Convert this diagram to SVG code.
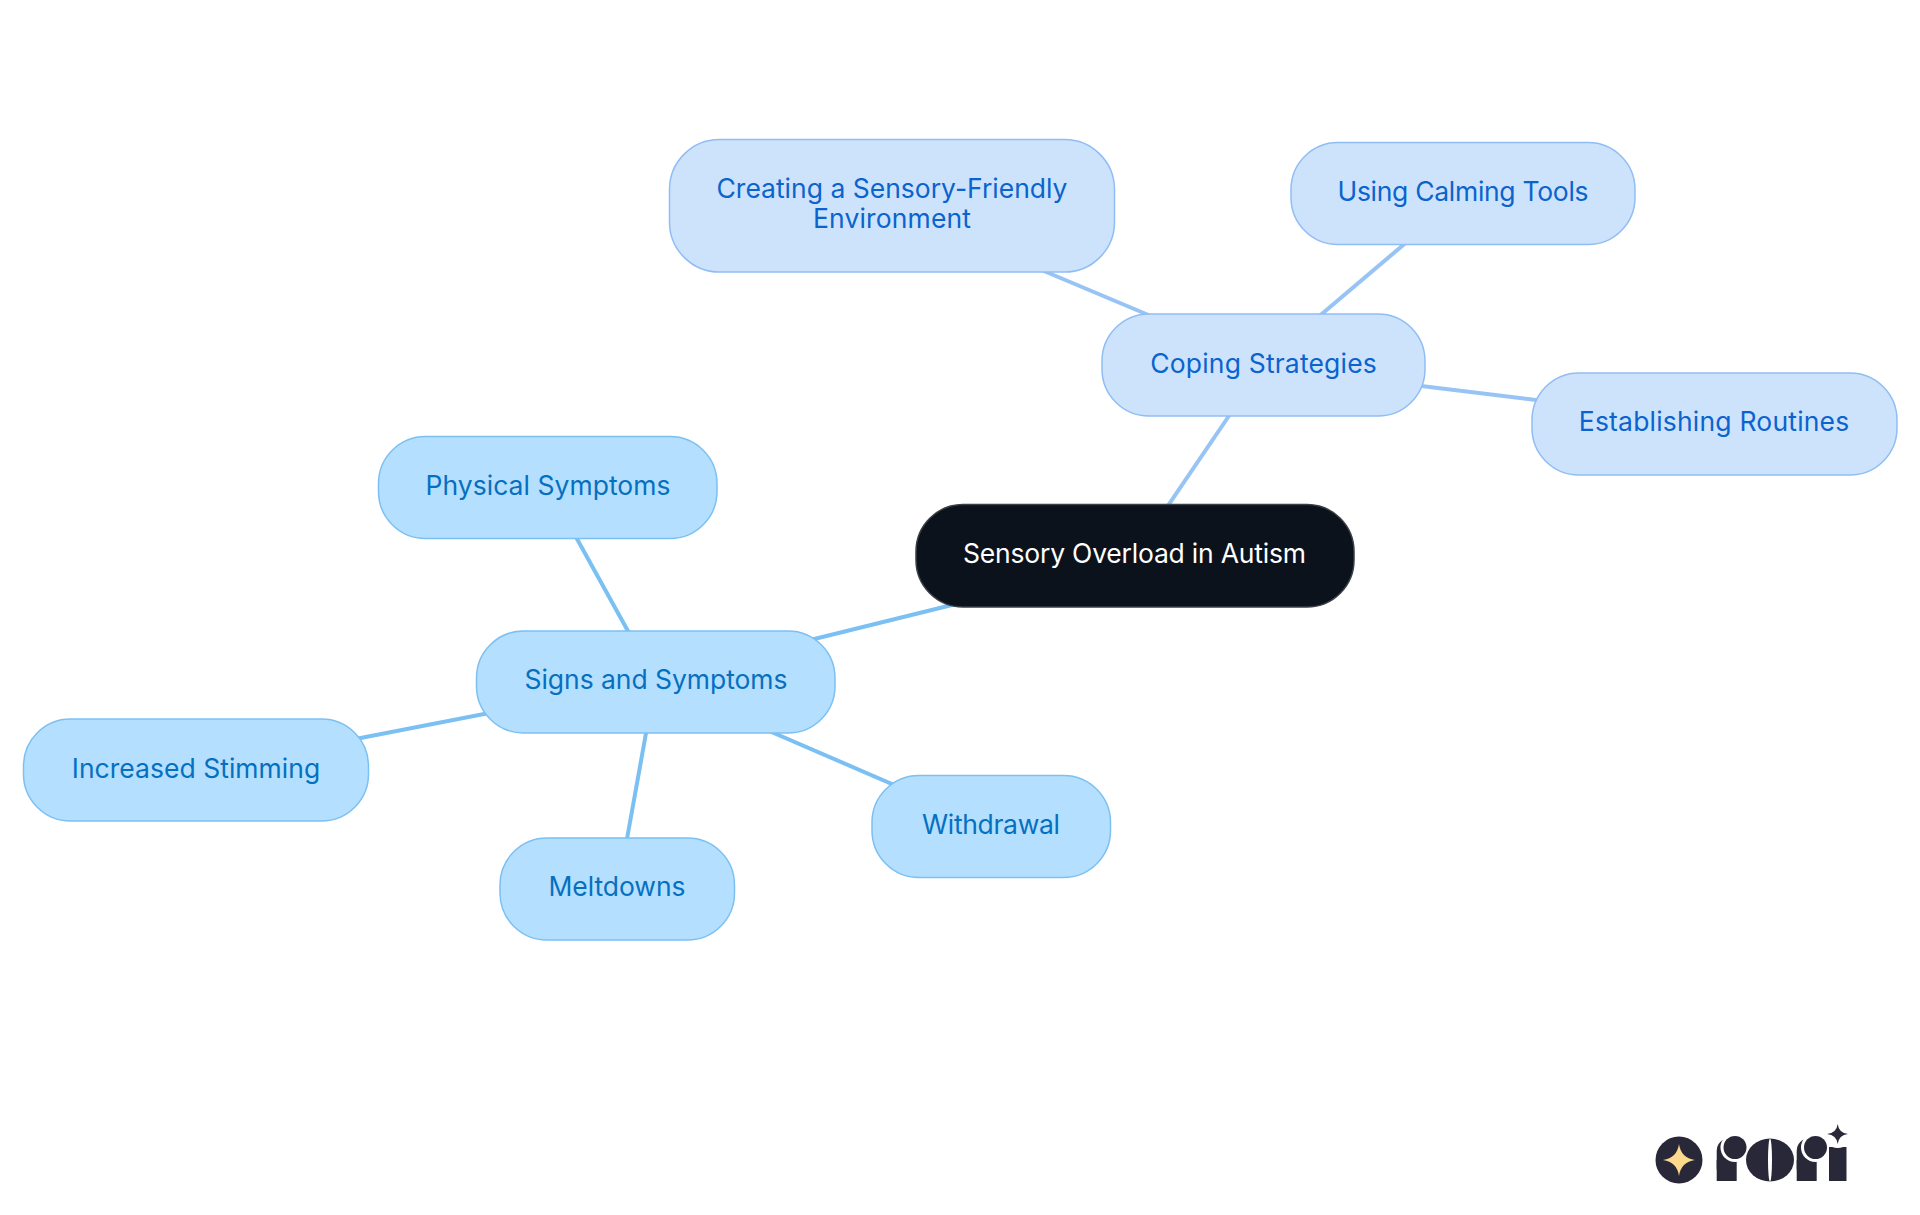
<svg xmlns="http://www.w3.org/2000/svg" width="1920" height="1215" viewBox="0 0 1920 1215">
<style>
text{font-family:"Inter","Noto Sans","Liberation Sans",sans-serif;font-size:26.5px;font-weight:400;text-anchor:middle}
.pill{stroke-width:1.5}
.c1{fill:#cde3fc;stroke:#90bdf3}
.c2{fill:#b5dfff;stroke:#7cc0f2}
.t1{fill:#0b63ce}
.t2{fill:#0670c0}
.l1{stroke:#98c3f5;stroke-width:4;fill:none}
.l2{stroke:#7bc0f3;stroke-width:4;fill:none}
.logo{fill:#292838}
.gap{fill:#fff}
</style>
<rect width="1920" height="1215" fill="#fff"/>
<g id="connectors">
<line class="l1" x1="1161" y1="516" x2="1237" y2="404"/>
<line class="l1" x1="1032" y1="266" x2="1177" y2="327"/>
<line class="l1" x1="1310" y1="324" x2="1415" y2="235"/>
<line class="l1" x1="1405" y1="384" x2="1552" y2="402"/>
<line class="l2" x1="960" y1="603" x2="790" y2="645"/>
<line class="l2" x1="634" y1="642" x2="571" y2="528"/>
<line class="l2" x1="510" y1="709" x2="340" y2="742"/>
<line class="l2" x1="648" y1="722" x2="625" y2="850"/>
<line class="l2" x1="760" y1="727" x2="915" y2="794"/>
</g>
<g id="root"><rect x="916" y="504.500" width="438" height="102.500" rx="47" fill="#0b121b" stroke="#3a3f46" stroke-width="1.500"/><text x="1134.500" y="563" fill="#fff" textLength="343">Sensory Overload in Autism</text></g>
<g id="coping"><rect class="pill c1" x="1102" y="314" width="323" height="102" rx="47"/><text class="t1" x="1263.500" y="373" textLength="226.500">Coping Strategies</text></g>
<g id="creating"><rect class="pill c1" x="669.500" y="139.500" width="445" height="132.500" rx="50"/><text class="t1" x="892" y="198" textLength="351">Creating a Sensory-Friendly</text><text class="t1" x="892" y="228" textLength="158">Environment</text></g>
<g id="calming"><rect class="pill c1" x="1291" y="142.500" width="344" height="102" rx="47"/><text class="t1" x="1463" y="201" textLength="251">Using Calming Tools</text></g>
<g id="routines"><rect class="pill c1" x="1532" y="373" width="365" height="102" rx="47"/><text class="t1" x="1714" y="431" textLength="270.500">Establishing Routines</text></g>
<g id="signs"><rect class="pill c2" x="476.500" y="631" width="358.500" height="102" rx="47"/><text class="t2" x="656" y="689" textLength="263">Signs and Symptoms</text></g>
<g id="physical"><rect class="pill c2" x="378.500" y="436.500" width="338.500" height="102" rx="47"/><text class="t2" x="548" y="495" textLength="245">Physical Symptoms</text></g>
<g id="stimming"><rect class="pill c2" x="23.500" y="719" width="345" height="102" rx="47"/><text class="t2" x="196" y="778" textLength="248.500">Increased Stimming</text></g>
<g id="meltdowns"><rect class="pill c2" x="500" y="838" width="234.500" height="102" rx="47"/><text class="t2" x="617" y="896" textLength="137">Meltdowns</text></g>
<g id="withdrawal"><rect class="pill c2" x="872" y="775.500" width="238.500" height="102" rx="47"/><text class="t2" x="991" y="834" textLength="138">Withdrawal</text></g>
<g id="logo">
<circle class="logo" cx="1679" cy="1160" r="23.500"/>
<path fill="#fcd98c" d="M1679 1144Q1681 1158 1695 1160Q1681 1162 1679 1176Q1677 1162 1663 1160Q1677 1158 1679 1144Z"/>
<rect class="logo" x="1716.700" y="1138" width="30" height="43" rx="13"/>
<rect class="logo" x="1716.700" y="1160" width="20" height="21"/>
<rect class="logo" x="1796.700" y="1138" width="30" height="43" rx="13"/>
<rect class="logo" x="1796.700" y="1160" width="20" height="21"/>
<rect class="gap" x="1736.700" y="1150" width="12" height="32"/>
<rect class="gap" x="1816.700" y="1150" width="12" height="32"/>
<circle class="gap" cx="1735" cy="1147.500" r="14.500"/>
<circle class="gap" cx="1815.500" cy="1147.500" r="14.500"/>
<circle class="logo" cx="1735" cy="1147.500" r="11.500"/>
<circle class="logo" cx="1815.500" cy="1147.500" r="11.500"/>
<ellipse class="logo" cx="1770" cy="1160" rx="24" ry="21.500"/>
<ellipse class="gap" cx="1770" cy="1160" rx="2" ry="21.500"/>
<rect class="logo" x="1829" y="1147" width="17.500" height="34"/>
<circle class="gap" cx="1837.700" cy="1134" r="14"/>
<path class="logo" d="M1837.700 1124Q1838.800 1133 1848 1134Q1838.800 1135 1837.700 1144Q1836.600 1135 1827 1134Q1836.600 1133 1837.700 1124Z"/>
</g>
</svg>
